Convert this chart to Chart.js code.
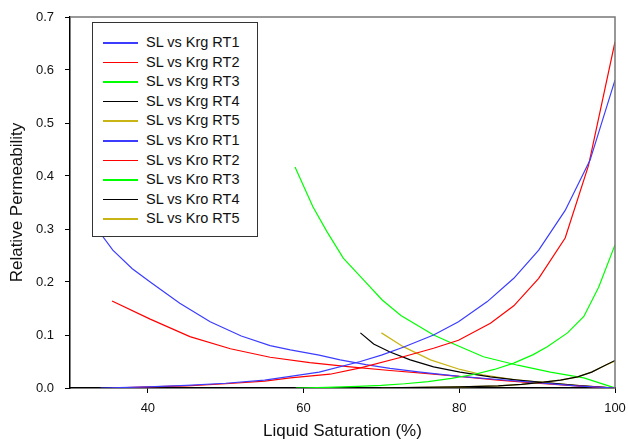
<!DOCTYPE html>
<html>
<head>
<meta charset="utf-8">
<script src="https://cdn.jsdelivr.net/npm/chart.js@4/dist/chart.umd.min.js"></script>
<style>
  body { margin: 0; background: #fff; }
  #wrap { position: relative; width: 628px; height: 440px; }
  #legend {
    position: absolute; left: 92px; top: 22px; width: 164px; height: 213px;
    border: 1.5px solid #333; background: #fff;
    font-family: Arial, "Liberation Sans", sans-serif; font-size: 14.5px; color: #111;
  }
  .item { position: absolute; left: 0; height: 18px; line-height: 18px; white-space: nowrap; }
  .item span.line { position: absolute; left: 10px; top: 9px; width: 35px; height: 1.5px; }
  .item span.txt { position: absolute; left: 53px; top: 0; }
</style>
</head>
<body>
<div id="wrap">
  <canvas id="relPermChart" width="628" height="440"></canvas>
  <div id="legend"></div>
</div>
<script>
// x ticks / y ticks
const xTicks = [40, 60, 80, 100]
const yTicks = [0, 0.1, 0.2, 0.3, 0.4, 0.5, 0.6, 0.7]

// gas relative permeability (Krg) vs liquid saturation
const slKrgRT1 = [33.9, 40, 45, 50, 55, 58.3, 62, 67.3, 70, 72.8, 76.7, 79.9, 83.6, 87, 90.2, 93.6, 96.8, 100]
const krgRT1   = [0, 0.002, 0.005, 0.009, 0.015, 0.022, 0.03, 0.05, 0.062, 0.077, 0.1, 0.125, 0.163, 0.207, 0.26, 0.335, 0.43, 0.581]

const slKrgRT2 = [35.4, 40, 45, 50, 55, 58.3, 63.4, 67.3, 72.8, 76.7, 79.9, 84, 87, 90.2, 93.6, 96.6, 100]
const krgRT2   = [0, 0.002, 0.004, 0.008, 0.013, 0.019, 0.026, 0.038, 0.059, 0.075, 0.09, 0.122, 0.155, 0.207, 0.283, 0.42, 0.653]

const slKrgRT3 = [59, 63, 67, 70, 73, 76, 79, 82, 84.5, 87, 89.5, 91.3, 93.9, 96, 97.9, 100]
const krgRT3   = [0, 0.001, 0.003, 0.005, 0.008, 0.012, 0.018, 0.026, 0.035, 0.047, 0.063, 0.078, 0.104, 0.135, 0.19, 0.27]

const slKrgRT4 = [67.3, 75, 80, 85, 88, 90.8, 93, 95.2, 97, 98.5, 100]
const krgRT4   = [0, 0.001, 0.002, 0.004, 0.007, 0.011, 0.015, 0.021, 0.03, 0.041, 0.052]

const slKrgRT5 = [70, 75, 80, 85, 88, 90.8, 93, 95.2, 97, 98.5, 100]
const krgRT5   = [0, 0.001, 0.002, 0.004, 0.007, 0.011, 0.015, 0.021, 0.03, 0.041, 0.051]

// oil relative permeability (Kro) vs liquid saturation
const slKroRT1 = [33.5, 35.5, 38, 40.3, 44.1, 48, 52, 55.7, 58.3, 62, 64.7, 68, 71.1, 75, 80, 85, 90, 95, 100]
const kroRT1   = [0.30, 0.26, 0.225, 0.2, 0.16, 0.125, 0.098, 0.08, 0.072, 0.062, 0.053, 0.044, 0.037, 0.03, 0.022, 0.016, 0.01, 0.004, 0]

const slKroRT2 = [35.4, 40.3, 45.4, 50.6, 55.7, 60.8, 66, 71.1, 76, 80, 85, 90, 95, 100]
const kroRT2   = [0.164, 0.13, 0.097, 0.074, 0.058, 0.048, 0.04, 0.033, 0.027, 0.022, 0.015, 0.009, 0.004, 0]

const slKroRT3 = [58.9, 61.2, 63, 65.1, 67.7, 70.1, 72.5, 76.7, 79, 83.1, 87.5, 91.7, 96, 100]
const kroRT3   = [0.417, 0.342, 0.295, 0.245, 0.204, 0.166, 0.137, 0.1, 0.085, 0.059, 0.043, 0.03, 0.019, 0]

const slKroRT4 = [67.3, 69, 71.1, 73.7, 76.7, 80.1, 84, 87.5, 91, 95, 100]
const kroRT4   = [0.104, 0.083, 0.068, 0.053, 0.04, 0.03, 0.021, 0.015, 0.01, 0.005, 0]

const slKroRT5 = [70, 72.8, 76.3, 80.1, 83, 87, 91, 95, 100]
const kroRT5   = [0.104, 0.078, 0.053, 0.035, 0.025, 0.016, 0.01, 0.005, 0]

const seriesLabels = [
  "SL vs Krg RT1", "SL vs Krg RT2", "SL vs Krg RT3", "SL vs Krg RT4", "SL vs Krg RT5",
  "SL vs Kro RT1", "SL vs Kro RT2", "SL vs Kro RT3", "SL vs Kro RT4", "SL vs Kro RT5"
]
const seriesColors = ["#3c3cff", "#ff0000", "#00ff00", "#000000", "#c8b414",
                      "#3c3cff", "#ff0000", "#00ff00", "#000000", "#c8b414"]

const seriesX = [slKrgRT1, slKrgRT2, slKrgRT3, slKrgRT4, slKrgRT5, slKroRT1, slKroRT2, slKroRT3, slKroRT4, slKroRT5]
const seriesY = [krgRT1, krgRT2, krgRT3, krgRT4, krgRT5, kroRT1, kroRT2, kroRT3, kroRT4, kroRT5]

const datasets = seriesLabels.map((label, i) => ({
  label: label,
  data: seriesX[i].map((x, j) => ({ x: x, y: seriesY[i][j] })),
  borderColor: seriesColors[i],
  backgroundColor: seriesColors[i],
  borderWidth: 1.2,
  showLine: true,
  pointRadius: 0,
  tension: 0,
  fill: false
}))

// gray top and right frame lines
const frame = {
  id: "frame",
  afterDatasetsDraw(chart) {
    const { ctx, chartArea: a } = chart
    ctx.save()
    ctx.strokeStyle = "#777"
    ctx.lineWidth = 1.5
    ctx.beginPath()
    ctx.moveTo(a.left, a.top)
    ctx.lineTo(a.right, a.top)
    ctx.lineTo(a.right, a.bottom)
    ctx.stroke()
    ctx.restore()
  }
}

const font = { family: "Arial, 'Liberation Sans', sans-serif", size: 13 }

new Chart(document.getElementById("relPermChart").getContext("2d"), {
  type: "scatter",
  data: { datasets: datasets },
  options: {
    responsive: false,
    animation: false,
    layout: { padding: { top: 17, right: 13, left: 0, bottom: 0 } },
    plugins: {
      legend: { display: false },
      tooltip: { enabled: false }
    },
    scales: {
      x: {
        type: "linear",
        min: 30,
        max: 100,
        afterBuildTicks: s => { s.ticks = xTicks.map(v => ({ value: v })) },
        afterFit: s => { s.height = 52; s.paddingLeft = 0; s.paddingRight = 0 },
        grid: { drawOnChartArea: false, tickLength: 5, color: "#000" },
        border: { color: "#000", width: 1.5 },
        ticks: { color: "#111", font: font, padding: 8, maxRotation: 0 },
        title: {
          display: true, text: "Liquid Saturation (%)", color: "#111",
          font: { family: font.family, size: 17 }, padding: { top: 0, bottom: -2 }
        }
      },
      y: {
        type: "linear",
        min: 0,
        max: 0.7,
        afterBuildTicks: s => { s.ticks = yTicks.map(v => ({ value: v })) },
        afterFit: s => { s.width = 70; s.paddingTop = 0; s.paddingBottom = 0 },
        grid: { drawOnChartArea: false, tickLength: 5, color: "#000" },
        border: { color: "#000", width: 1.5 },
        ticks: { color: "#111", font: font, padding: 11, callback: v => v.toFixed(1) },
        title: {
          display: true, text: "Relative Permeability", color: "#111",
          font: { family: font.family, size: 17 }, padding: { top: 7, bottom: 0 }
        }
      }
    }
  },
  plugins: [frame]
})

// legend box inside the plot
const legend = document.getElementById("legend")
seriesLabels.forEach((label, i) => {
  const row = document.createElement("div")
  row.className = "item"
  row.style.top = (10 + i * 19.6) + "px"
  row.innerHTML = '<span class="line" style="background:' + seriesColors[i] + '"></span><span class="txt">' + label + '</span>'
  legend.appendChild(row)
})
</script>
</body>
</html>
